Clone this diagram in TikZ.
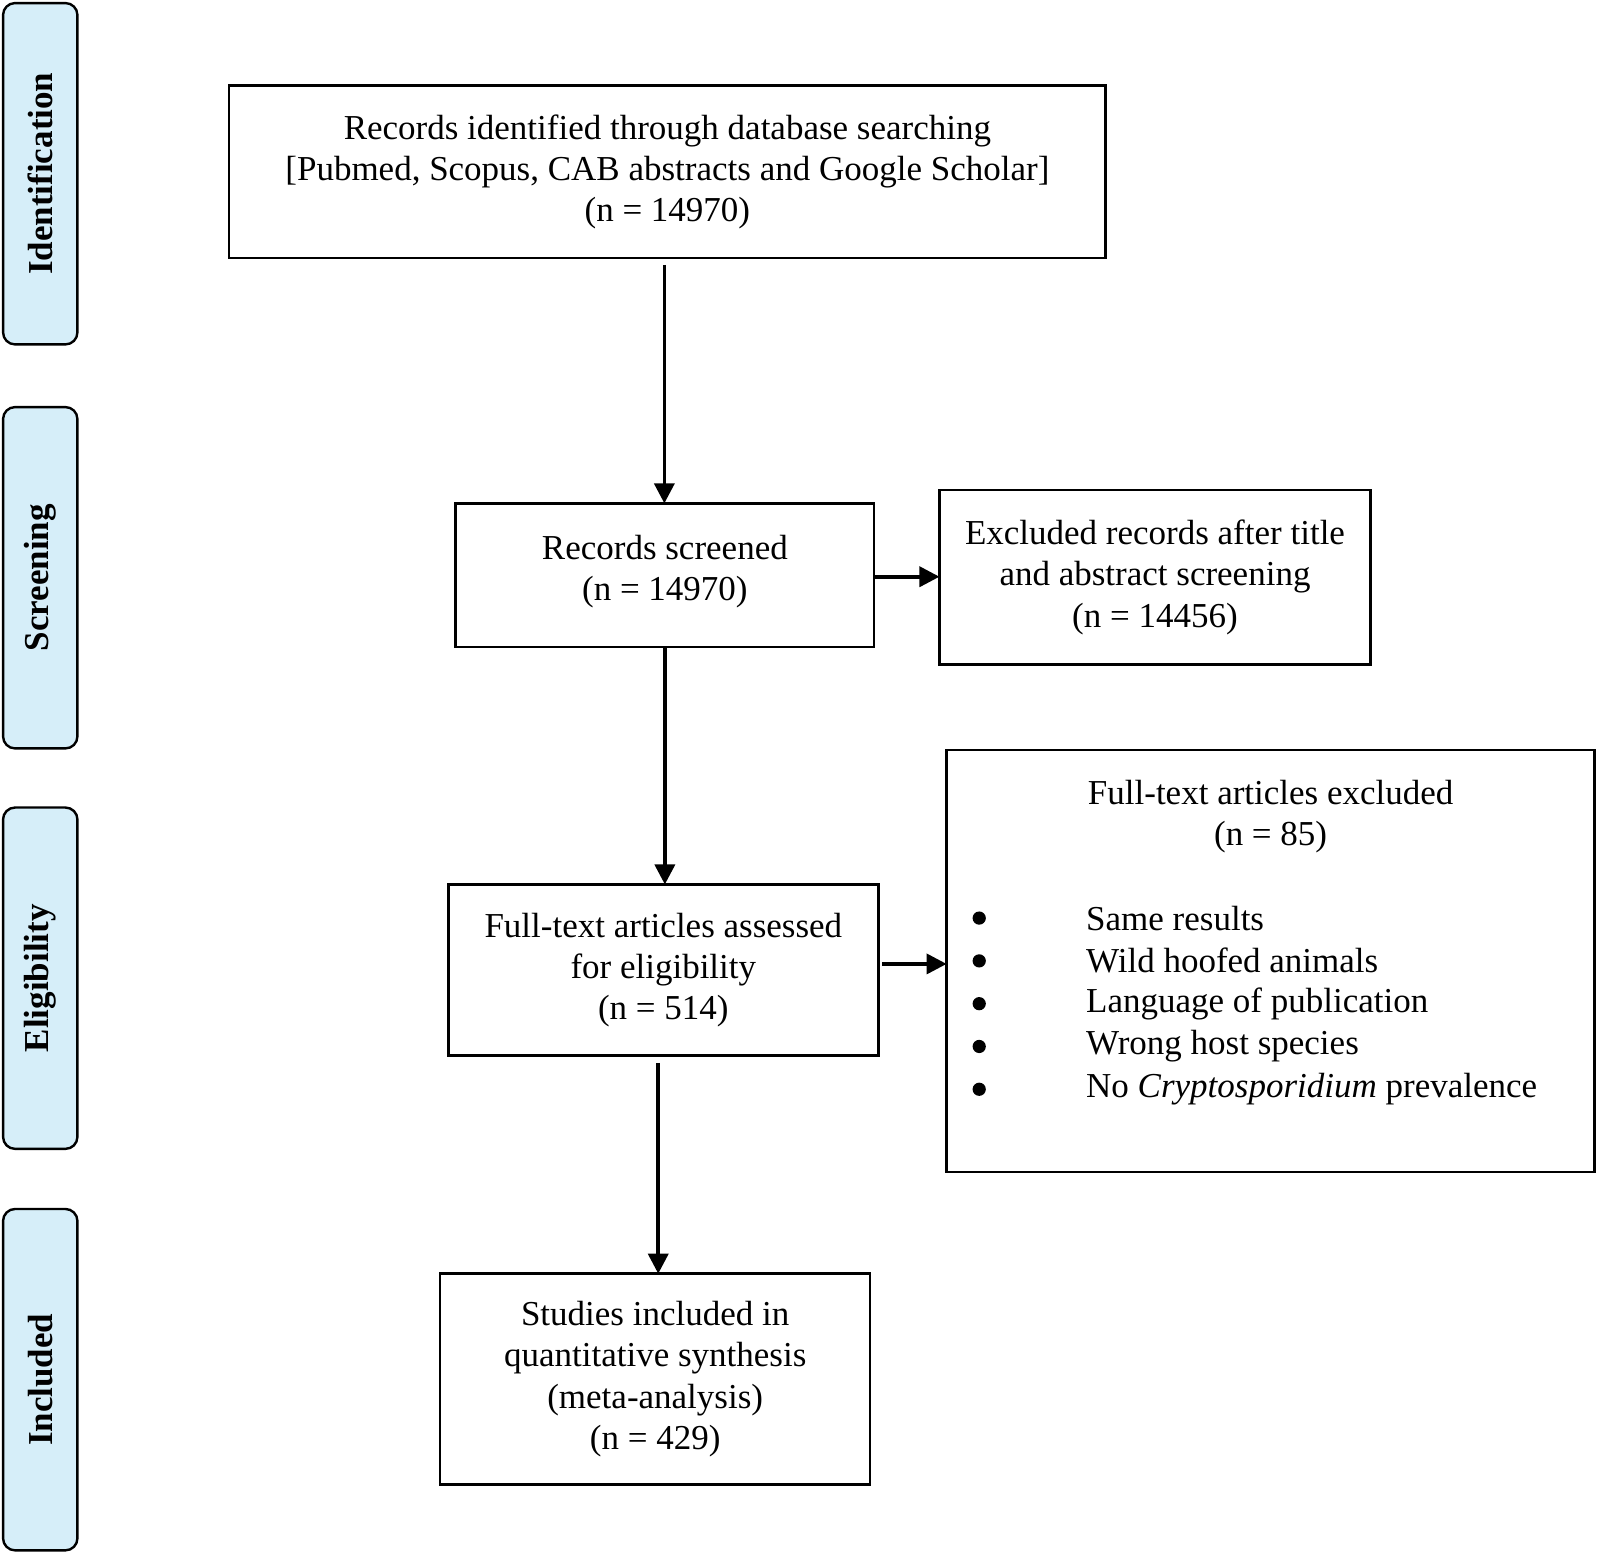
\documentclass[tikz,border=0pt]{standalone}
\usepackage{fontspec}
\setmainfont{Liberation Serif}
\usetikzlibrary{arrows.meta}
\definecolor{sidefill}{HTML}{D6EEF9}
\def\pxu{0.5095pt}
\begin{document}
\begin{tikzpicture}[x=\pxu,y=-\pxu,
  every node/.style={inner sep=0pt, outer sep=0pt, font=\fontsize{17.5pt}{20.6pt}\selectfont},
  sidebox/.style={draw=black, line width=1.2pt, fill=sidefill, rounded corners=6pt,
     minimum width=73*\pxu, minimum height=335*\pxu},
  sidelabel/.style={rotate=90, font=\fontsize{17.5pt}{20.6pt}\selectfont\bfseries},
  flowbox/.style={draw=black, line width=1.2pt, align=center},
  flowarrow/.style={line width=1.8pt, -{Triangle[length=10pt,width=10pt]}},
  bulletdot/.style={circle, fill=black, minimum size=13*\pxu}
]
\useasboundingbox (0,0) rectangle (1567.3,1523);

% side panels
\node[sidebox] (sid) at (39.5,170.5) {};
\node[sidelabel] (lid) at (39.5,170.5) {Identification};
\node[sidebox] (sscr) at (39.5,567) {};
\node[sidelabel] (lscr) at (39.5,567) {Screening};
\node[sidebox] (selig) at (39.5,960) {};
\node[sidelabel] (lelig) at (39.5,960) {Eligibility};
\node[sidebox] (sinc) at (39.5,1354) {};
\node[sidelabel] (linc) at (39.5,1354) {Included};

% flow boxes
\node[flowbox, minimum width=860*\pxu, minimum height=169*\pxu] (b1) at (655,168.5)
  {Records identified through database searching\\
   {[}Pubmed, Scopus, CAB abstracts and Google Scholar{]}\\
   (n = 14970)};
\node[flowbox, minimum width=411*\pxu, minimum height=141*\pxu] (b2) at (652.5,564.5) {};
\node[align=center] (t2) at (652.5,561) {Records screened\\(n = 14970)};
\node[flowbox, minimum width=423*\pxu, minimum height=171*\pxu] (b3) at (1133.5,566.5)
  {Excluded records after title\\and abstract screening\\(n = 14456)};
\node[flowbox, minimum width=422*\pxu, minimum height=168*\pxu] (b4) at (651,952)
  {Full-text articles assessed\\for eligibility\\(n = 514)};
\node[flowbox, minimum width=636*\pxu, minimum height=414*\pxu] (b5) at (1247,943) {};
\node[align=center] (t5) at (1247,801) {Full-text articles excluded\\(n = 85)};
\node[bulletdot] (d1) at (961,901) {};
\node[bulletdot] (d2) at (961,943) {};
\node[bulletdot] (d3) at (961,985) {};
\node[bulletdot] (d4) at (961,1027) {};
\node[bulletdot] (d5) at (961,1069) {};
\node[anchor=west] (i1) at (1066,901) {Same results};
\node[anchor=west] (i2) at (1066,943) {Wild hoofed animals};
\node[anchor=west] (i3) at (1066,985) {Language of publication};
\node[anchor=west] (i4) at (1066,1027) {Wrong host species};
\node[anchor=west] (i5) at (1066,1069) {No \textit{Cryptosporidium} prevalence};
\node[flowbox, minimum width=422*\pxu, minimum height=207*\pxu] (b6) at (643,1353.5)
  {Studies included in\\quantitative synthesis\\(meta-analysis)\\(n = 429)};

% connectors
\coordinate (a1s) at (652,260);
\draw[flowarrow] (a1s) -- (b2.north -| a1s);
\draw[flowarrow] (b2.east |- 0,566) -- (b3.west |- 0,566);
\draw[flowarrow] (b2.south) -- (b4.north -| b2.south);
\coordinate (a4s) at (866,946);
\draw[flowarrow] (a4s) -- (b5.west |- a4s);
\coordinate (a5s) at (646,1043);
\draw[flowarrow] (a5s) -- (b6.north -| a5s);
\end{tikzpicture}
\end{document}
